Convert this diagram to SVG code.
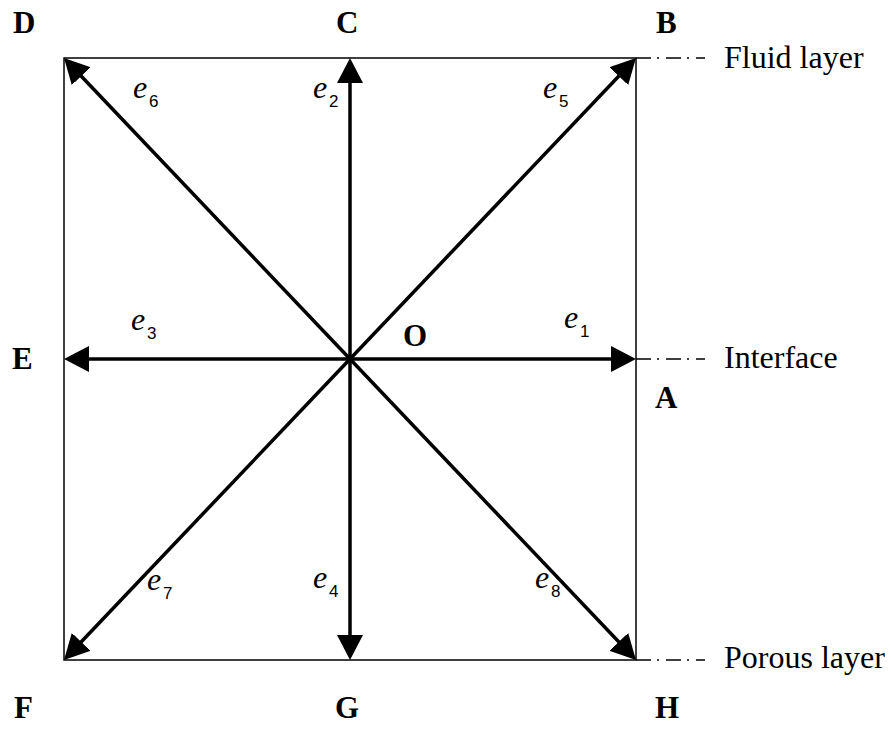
<svg xmlns="http://www.w3.org/2000/svg" width="891" height="729" viewBox="0 0 891 729">
<style>
.frame{fill:none;stroke:#000;stroke-width:1.5}
.vec{stroke:#000;stroke-width:3.5;fill:none;marker-end:url(#ah)}
.dash{stroke:#000;stroke-width:1.5;fill:none;stroke-dasharray:15 6 2 7}
.pt{font-family:"Liberation Serif","Times New Roman",serif;font-weight:bold;font-size:31px;fill:#000}
.lab{font-family:"Liberation Serif","Times New Roman",serif;font-size:32px;fill:#000}
.ev{font-family:"Liberation Serif","Times New Roman",serif;font-style:italic;font-size:32px;fill:#000}
.sub{font-family:"Liberation Sans",Arial,sans-serif;font-size:17px;fill:#000}
</style>
<defs>
<marker id="ah" markerUnits="userSpaceOnUse" markerWidth="27" markerHeight="27" refX="15" refY="13" orient="auto" viewBox="0 0 27 27">
<path d="M0,0 L25,13 L0,26 z" fill="#000"/>
</marker>
</defs>
<rect class="frame" x="64" y="58" width="572" height="602"/>
<g id="connectors">
<line class="vec" x1="350" y1="359" x2="626" y2="359"/>
<line class="vec" x1="350" y1="359" x2="74" y2="359"/>
<line class="vec" x1="350" y1="359" x2="350" y2="68"/>
<line class="vec" x1="350" y1="359" x2="350" y2="650"/>
<line class="vec" x1="350" y1="359" x2="629.1" y2="65.25"/>
<line class="vec" x1="350" y1="359" x2="70.9" y2="65.25"/>
<line class="vec" x1="350" y1="359" x2="629.1" y2="652.75"/>
<line class="vec" x1="350" y1="359" x2="70.9" y2="652.75"/>
<path class="dash" d="M636,58 H705"/>
<path class="dash" d="M636,359 H705"/>
<path class="dash" d="M636,660 H705"/>
</g>
<g id="A"><text class="pt" x="655" y="408">A</text></g>
<g id="B"><text class="pt" x="656" y="33">B</text></g>
<g id="C"><text class="pt" x="336" y="33">C</text></g>
<g id="D"><text class="pt" x="13" y="33">D</text></g>
<g id="E"><text class="pt" x="12" y="369">E</text></g>
<g id="F"><text class="pt" x="14" y="718">F</text></g>
<g id="G"><text class="pt" x="335" y="718">G</text></g>
<g id="H"><text class="pt" x="655" y="718">H</text></g>
<g id="O"><text class="pt" x="403" y="346">O</text></g>
<g id="e1"><text class="ev" x="564" y="328">e</text><text class="sub" x="580" y="337">1</text></g>
<g id="e2"><text class="ev" x="313" y="98">e</text><text class="sub" x="329" y="107">2</text></g>
<g id="e3"><text class="ev" x="131" y="330">e</text><text class="sub" x="147" y="339">3</text></g>
<g id="e4"><text class="ev" x="313" y="588">e</text><text class="sub" x="329" y="597">4</text></g>
<g id="e5"><text class="ev" x="543" y="98">e</text><text class="sub" x="559" y="107">5</text></g>
<g id="e6"><text class="ev" x="133" y="98">e</text><text class="sub" x="149" y="107">6</text></g>
<g id="e7"><text class="ev" x="147" y="590">e</text><text class="sub" x="163" y="599">7</text></g>
<g id="e8"><text class="ev" x="535" y="588">e</text><text class="sub" x="551" y="597">8</text></g>
<g id="fluid"><text class="lab" x="724" y="68">Fluid layer</text></g>
<g id="interface"><text class="lab" x="724" y="368">Interface</text></g>
<g id="porous"><text class="lab" x="724" y="668">Porous layer</text></g>
</svg>
